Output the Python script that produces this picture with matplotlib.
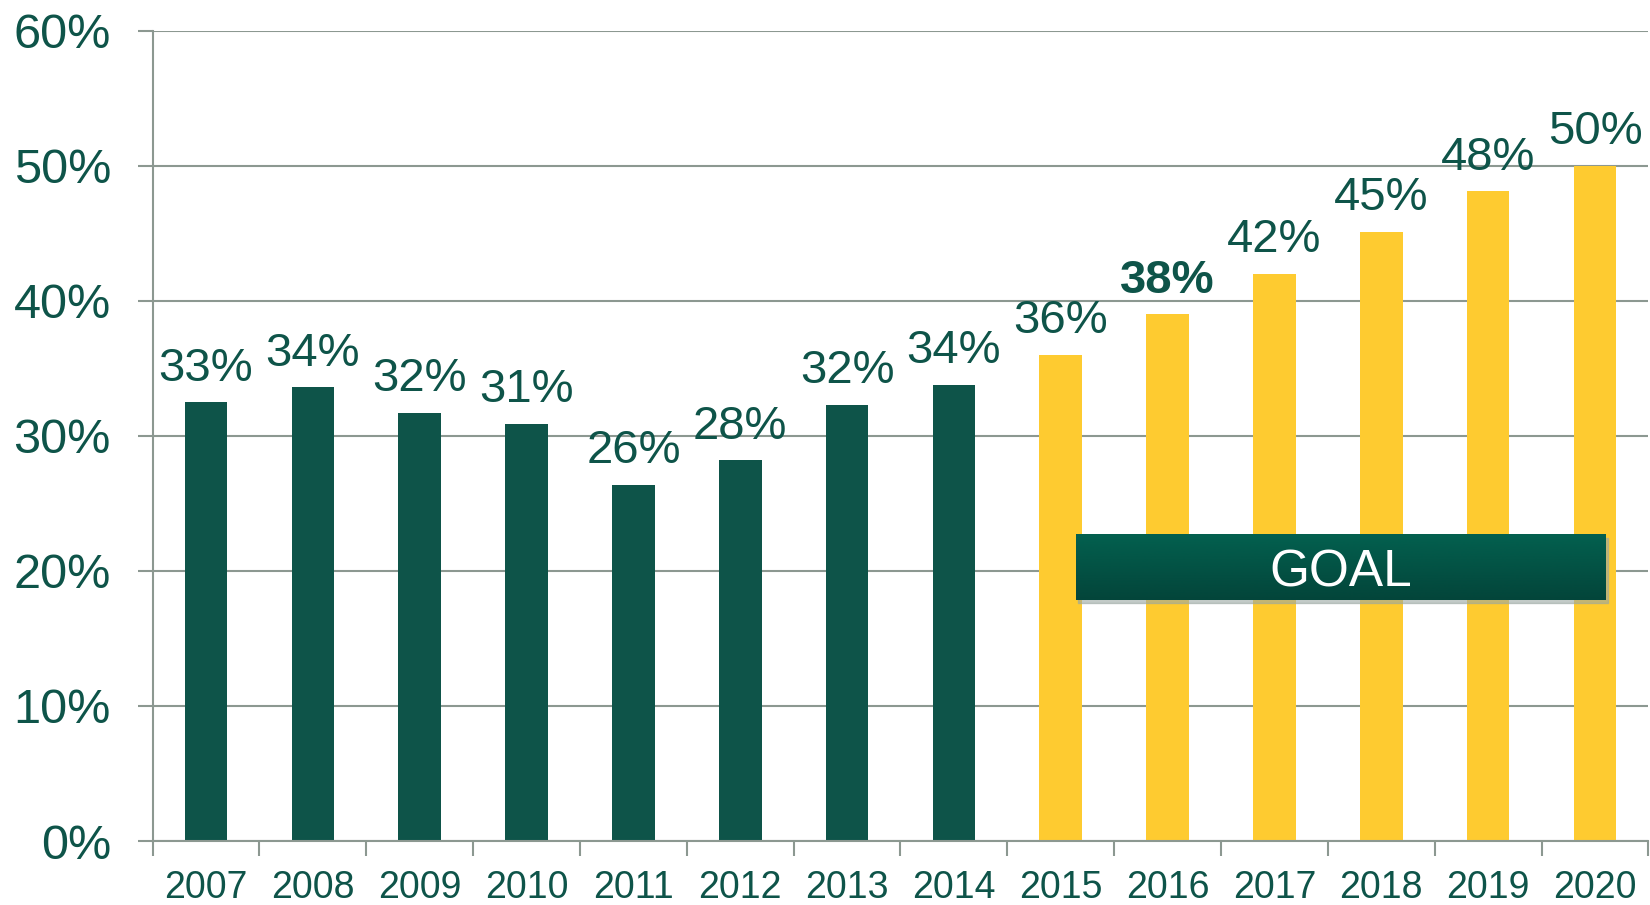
import matplotlib
matplotlib.use('Agg')
import matplotlib.pyplot as plt
import numpy as np

# datos
years = ['2007', '2008', '2009', '2010', '2011', '2012', '2013',
         '2014', '2015', '2016', '2017', '2018', '2019', '2020']
values = [32.5, 33.6, 31.7, 30.9, 26.4, 28.2, 32.3,
          33.8, 36.0, 39.0, 42.0, 45.1, 48.1, 50.0]
labels = ['33%', '34%', '32%', '31%', '26%', '28%', '32%',
          '34%', '36%', '38%', '42%', '45%', '48%', '50%']
is_goal = [False] * 8 + [True] * 6
bold_labels = ['2016']

green = '#0e5449'
yellow = '#fecb30'
grey = '#8c9891'

plt.rcParams['font.family'] = ['Liberation Sans', 'DejaVu Sans']

fig = plt.figure(figsize=(16.5, 9.05), dpi=100)
ax = fig.add_axes([0.0925, 0.0707, 0.9065, 0.8953])

x = np.arange(len(years))
colors = [yellow if g else green for g in is_goal]
ax.bar(x, values, width=0.4, color=colors, zorder=2)

# etiquetas sobre las barras
for xi, v, lab, yr in zip(x, values, labels, years):
    ax.annotate(lab, (xi, v), xytext=(0, 15.5), textcoords='offset points',
                ha='center', va='baseline', fontsize=34, color=green,
                fontweight='bold' if yr in bold_labels else 'normal', zorder=4)

ax.set_xlim(-0.5, len(years) - 0.5)
ax.set_ylim(0, 60)
ax.set_yticks(range(0, 61, 10))
ax.set_yticklabels([f'{t}%' for t in range(0, 61, 10)])
ax.yaxis.grid(True, color=grey, linewidth=1.5, zorder=0)
ax.set_axisbelow(True)

# ticks del eje x entre categorias
ax.set_xticks(np.arange(-0.5, len(years), 1.0))
ax.set_xticklabels([])
ax.set_xticks(x, minor=True)
ax.set_xticklabels(years, minor=True)
ax.tick_params(axis='x', which='major', length=11, width=1.5, color=grey)
ax.tick_params(axis='x', which='minor', length=0, pad=21, labelsize=27,
               labelcolor=green)
ax.tick_params(axis='y', length=11, width=1.5, color=grey, pad=19,
               labelsize=35, labelcolor=green)

for s in ['top', 'right']:
    ax.spines[s].set_visible(False)
for s in ['left', 'bottom']:
    ax.spines[s].set_color(grey)
    ax.spines[s].set_linewidth(1.5)

# caja GOAL con degradado (claro arriba, oscuro abajo)
x0, x1, y0, y1 = 8.14, 13.1, 17.85, 22.7
ax.fill_between([x0 + 0.02, x1 + 0.02], y0 - 0.25, y1 - 0.25,
                color='#9aa7a2', alpha=0.6, zorder=3)
grad = np.linspace(0, 1, 100).reshape(-1, 1)
cmap = matplotlib.colors.LinearSegmentedColormap.from_list(
    'g', ['#03604f', '#03453a'])
ax.imshow(grad, cmap=cmap, extent=(x0, x1, y0, y1), origin='upper',
          aspect='auto', zorder=3.5)
ax.text((x0 + x1) / 2, (y0 + y1) / 2, 'GOAL', color='white', fontsize=37,
        ha='center', va='center_baseline', zorder=4)
ax.set_xlim(-0.5, len(years) - 0.5)
ax.set_ylim(0, 60)

fig.savefig('out.png', dpi=100)
